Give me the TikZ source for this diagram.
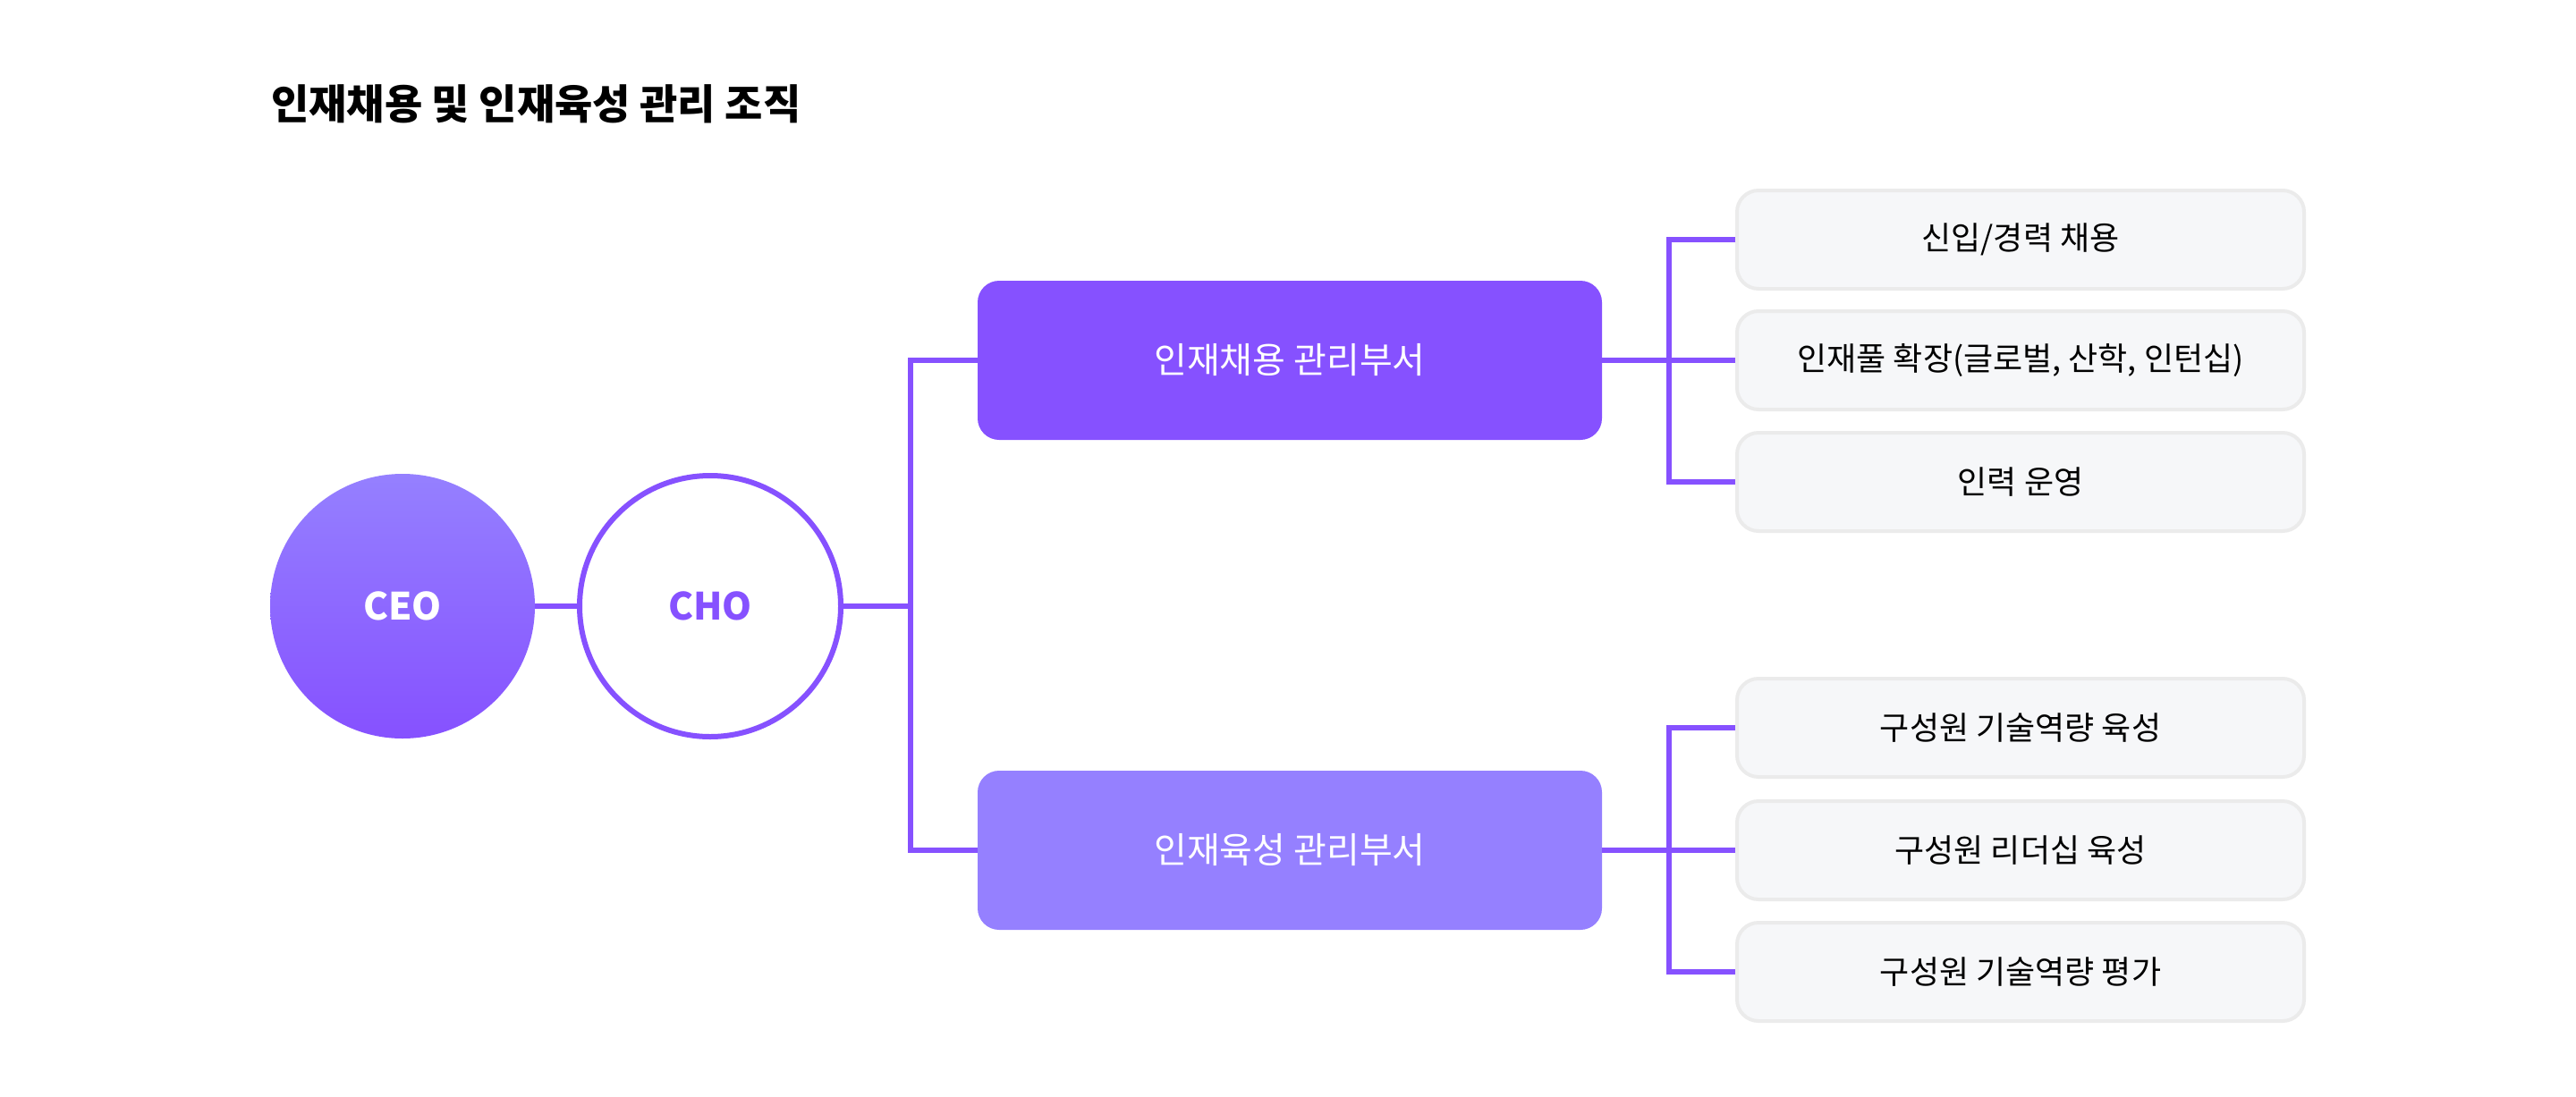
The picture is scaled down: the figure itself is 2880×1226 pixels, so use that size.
\documentclass[tikz,border=0pt]{standalone}
\usepackage{fontspec}
\setmainfont{Noto Sans CJK KR}
\begin{document}
\begin{tikzpicture}[x=0.5pt,y=-0.5pt,
  line/.style={draw=pv,line width=3pt},
  dept/.style={rounded corners=12pt,minimum width=349pt,minimum height=89pt,text=white,font=\fontsize{20}{24}\selectfont,inner sep=0pt},
  sub/.style={rounded corners=12pt,fill=subfill,draw=subline,line width=2pt,minimum width=317pt,minimum height=55pt,font=\fontsize{18}{22}\selectfont,inner sep=0pt},
  circ/.style={circle,minimum size=148pt,inner sep=0pt,font=\bfseries\fontsize{21}{24}\selectfont}]
\definecolor{pv}{HTML}{8651FF}
\definecolor{pl}{HTML}{9580FF}
\definecolor{subfill}{HTML}{F6F7F9}
\definecolor{subline}{HTML}{EBEBEB}
\useasboundingbox (0,0) rectangle (2880,1226);
\node[anchor=west,font=\bfseries\fontsize{23}{26}\selectfont] (title) at (296,116) {인재채용 및 인재육성 관리 조직};
\node[circ,top color=pl,bottom color=pv,text=white] (ceo) at (450,678) {CEO};
\node[circ,draw=pv,line width=3pt,fill=white,text=pv,minimum size=146pt] (cho) at (794,678) {CHO};
\node[dept,fill=pv] (b1) at (1442,403) {인재채용 관리부서};
\node[dept,fill=pl] (b2) at (1442,951) {인재육성 관리부서};
\node[sub] (s1) at (2259,268) {신입/경력 채용};
\node[sub] (s2) at (2259,403) {인재풀 확장(글로벌, 산학, 인턴십)};
\node[sub] (s3) at (2259,539) {인력 운영};
\node[sub] (s4) at (2259,814) {구성원 기술역량 육성};
\node[sub] (s5) at (2259,951) {구성원 리더십 육성};
\node[sub] (s6) at (2259,1087) {구성원 기술역량 평가};
\coordinate (tr) at (1018,678);
\coordinate (r1) at (1866,403);
\coordinate (r2) at (1866,951);
\draw[line] (ceo.east) -- (cho.west);
\draw[line] (cho.east) -- (tr);
\draw[line] (b1.west) -| (tr) |- (b2.west);
\draw[line] (b1.east) -- (s2.west);
\draw[line] (s1.west) -| (r1) |- (s3.west);
\draw[line] (b2.east) -- (s5.west);
\draw[line] (s4.west) -| (r2) |- (s6.west);
\end{tikzpicture}
\end{document}
